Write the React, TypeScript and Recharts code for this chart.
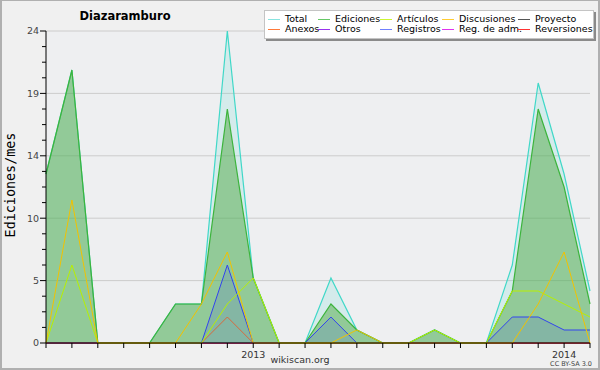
import React from "react"
import { AreaChart, Area, XAxis, YAxis, CartesianGrid } from "recharts"

// months from May 2012 to Feb 2014
const months = [
  "2012-05", "2012-06", "2012-07", "2012-08", "2012-09", "2012-10", "2012-11", "2012-12",
  "2013-01", "2013-02", "2013-03", "2013-04", "2013-05", "2013-06", "2013-07", "2013-08",
  "2013-09", "2013-10", "2013-11", "2013-12", "2014-01", "2014-02",
]

const total = [13, 21, 0, 0, 0, 3, 3, 24, 5, 0, 0, 5, 1, 0, 0, 1, 0, 0, 6, 20, 13, 4]
const ediciones = [13, 21, 0, 0, 0, 3, 3, 18, 5, 0, 0, 3, 1, 0, 0, 1, 0, 0, 4, 18, 12, 3]
const articulos = [0, 6, 0, 0, 0, 0, 0, 3, 5, 0, 0, 0, 0, 0, 0, 1, 0, 0, 4, 4, 3, 2]
const discusiones = [0, 11, 0, 0, 0, 0, 3, 7, 0, 0, 0, 0, 1, 0, 0, 0, 0, 0, 0, 3, 7, 0]
const proyecto = [0, 0, 0, 0, 0, 0, 0, 0, 0, 0, 0, 0, 0, 0, 0, 0, 0, 0, 0, 0, 0, 0]
const anexos = [0, 0, 0, 0, 0, 0, 0, 2, 0, 0, 0, 0, 0, 0, 0, 0, 0, 0, 0, 0, 0, 0]
const otros = [0, 0, 0, 0, 0, 0, 0, 0, 0, 0, 0, 0, 0, 0, 0, 0, 0, 0, 0, 0, 0, 0]
const registros = [0, 0, 0, 0, 0, 0, 0, 6, 0, 0, 0, 2, 0, 0, 0, 0, 0, 0, 2, 2, 1, 1]
const regAdm = [0, 0, 0, 0, 0, 0, 0, 0, 0, 0, 0, 0, 0, 0, 0, 0, 0, 0, 0, 0, 0, 0]
const reversiones = [0, 0, 0, 0, 0, 0, 0, 0, 0, 0, 0, 0, 0, 0, 0, 0, 0, 0, 0, 0, 0, 0]

const yTicks = [0, 1.2, 2.4, 3.6, 4.8, 6, 7.2, 8.4, 9.6, 10.8, 12, 13.2, 14.4, 15.6, 16.8, 18, 19.2, 20.4, 21.6, 22.8, 24]
const yMajorTicks = [0, 4.8, 9.6, 14.4, 19.2, 24]
const yMajorLabels = ["0", "5", "10", "14", "19", "24"]

const data = months.map((m, i) => ({
  m,
  total: total[i],
  ediciones: ediciones[i],
  articulos: articulos[i],
  discusiones: discusiones[i],
  proyecto: proyecto[i],
  anexos: anexos[i],
  otros: otros[i],
  registros: registros[i],
  regAdm: regAdm[i],
  reversiones: reversiones[i],
}))

const legendItems = [
  { name: "Total", color: "#88e4e0" },
  { name: "Ediciones", color: "#66c866" },
  { name: "Artículos", color: "#ccf533" },
  { name: "Discusiones", color: "#ffcc33" },
  { name: "Proyecto", color: "#555555" },
  { name: "Anexos", color: "#ff7a3a" },
  { name: "Otros", color: "#9933ee" },
  { name: "Registros", color: "#7080ff" },
  { name: "Reg. de adm.", color: "#e033ee" },
  { name: "Reversiones", color: "#ff3333" },
]

const font = "'DejaVu Sans', Verdana, sans-serif"

function YTick(props: any) {
  const { x, y, payload } = props
  const idx = yMajorTicks.findIndex((t) => Math.abs(t - payload.value) < 0.01)
  const major = idx >= 0
  return (
    <g>
      <line x1={major ? x - 6 : x - 4} x2={x} y1={y} y2={y} stroke="#000" />
      {major && (
        <text x={x - 7} y={y} dy="0.35em" textAnchor="end" fontSize={9.5} fill="#444" fontFamily={font}>
          {yMajorLabels[idx]}
        </text>
      )}
    </g>
  )
}

const xLabel = (v: string) => (v.endsWith("-01") ? v.slice(0, 4) : "")

export default function App() {
  const colX = [268, 318, 380, 442, 518]
  return (
    <div style={{ position: "absolute", left: 0, top: 0, width: 600, height: 370, background: "#f0f0f0", fontFamily: font }}>
      <AreaChart width={600} height={370} data={data} margin={{ top: 31, right: 10, bottom: 0, left: 0 }}>
        <CartesianGrid vertical={false} horizontalValues={yMajorTicks} stroke="#cccccc" fill="#eeeff1" />
        <Area dataKey="proyecto" type="linear" stroke="#555555" fill="none" isAnimationActive={false} dot={false} />
        <Area dataKey="otros" type="linear" stroke="#9933ee" fill="none" isAnimationActive={false} dot={false} />
        <Area dataKey="regAdm" type="linear" stroke="#e033ee" fill="none" isAnimationActive={false} dot={false} />
        <Area dataKey="reversiones" type="linear" stroke="#ff3333" fill="none" isAnimationActive={false} dot={false} />
        <Area dataKey="total" type="linear" stroke="#40d8c8" strokeWidth={1.2} fill="#40d8c8" fillOpacity={0.15} isAnimationActive={false} dot={false} />
        <Area dataKey="ediciones" type="linear" stroke="#3cb43c" strokeWidth={1.2} fill="#50aa46" fillOpacity={0.5} isAnimationActive={false} dot={false} />
        <Area dataKey="registros" type="linear" stroke="#3344ee" strokeWidth={1} fill="#3344ee" fillOpacity={0.15} isAnimationActive={false} dot={false} />
        <Area dataKey="anexos" type="linear" stroke="#ee5522" strokeWidth={0.8} fill="none" isAnimationActive={false} dot={false} />
        <Area dataKey="articulos" type="linear" stroke="#b8f000" strokeWidth={1} fill="none" isAnimationActive={false} dot={false} />
        <Area dataKey="discusiones" type="linear" stroke="#f2c200" strokeWidth={1} fill="none" isAnimationActive={false} dot={false} />
        <XAxis
          dataKey="m"
          interval={0}
          height={27}
          tickSize={5}
          tickMargin={3}
          stroke="#000"
          zIndex={1000}
          tickFormatter={xLabel}
          tick={{ fontSize: 9.5, fill: "#333", fontFamily: font }}
        />
        <YAxis
          type="number"
          domain={[0, 24]}
          ticks={yTicks}
          interval={0}
          width={46}
          tickSize={0}
          tickMargin={0}
          tickLine={false}
          stroke="#000"
          zIndex={1000}
          tick={<YTick />}
        />
      </AreaChart>

      <div style={{ position: "absolute", left: 65, width: 120, top: 9, textAlign: "center", fontWeight: "bold", fontSize: 11.5, color: "#000" }}>
        Diazaramburo
      </div>

      <div
        style={{
          position: "absolute",
          left: 10,
          top: 185,
          transform: "translate(-50%, -50%) rotate(-90deg)",
          fontFamily: "'DejaVu Sans Mono', monospace",
          fontSize: 13.4,
          whiteSpace: "nowrap",
          color: "#000",
        }}
      >
        Ediciones/mes
      </div>

      <div style={{ position: "absolute", left: 264, top: 10, width: 328, height: 27, background: "#fff", border: "1px solid #c4c4c4", boxShadow: "2px 2px 0 #8a8a8a" }} />
      {legendItems.map((it, i) => {
        const col = i % 5
        const row = Math.floor(i / 5)
        const cy = row === 0 ? 19 : 29
        return (
          <React.Fragment key={it.name}>
            <div style={{ position: "absolute", left: colX[col], top: cy, width: 12, height: 1, background: it.color }} />
            <div style={{ position: "absolute", left: colX[col] + 17, top: cy - 6, fontSize: 9.5, lineHeight: "12px", color: "#000", whiteSpace: "nowrap" }}>
              {it.name}
            </div>
          </React.Fragment>
        )
      })}

      <div style={{ position: "absolute", left: 250, width: 100, top: 354, textAlign: "center", fontSize: 9.5, color: "#333" }}>wikiscan.org</div>
      <div style={{ position: "absolute", left: 540, width: 52, top: 360, textAlign: "right", fontSize: 6.5, color: "#444" }}>CC BY-SA 3.0</div>

      <div style={{ position: "absolute", left: 0, top: 0, width: 600, height: 370, boxSizing: "border-box", border: "2px solid #b0b0b0", borderTopWidth: 1, pointerEvents: "none" }} />
    </div>
  )
}
